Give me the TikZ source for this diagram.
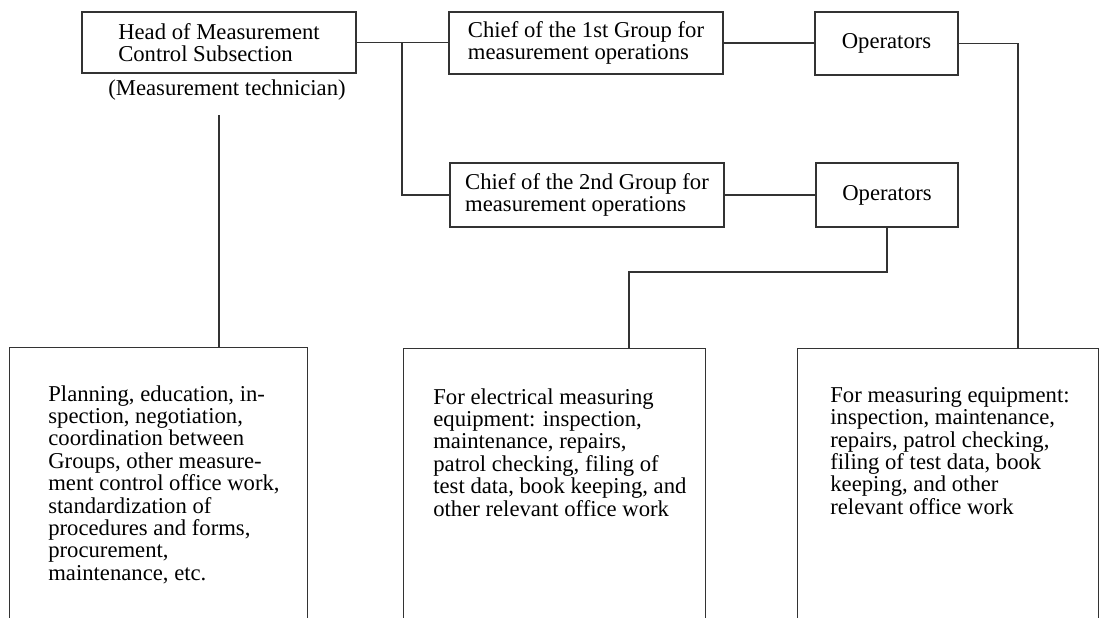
\documentclass[tikz,border=0pt]{standalone}
\usepackage{fontspec}
\setmainfont{Liberation Serif}
\usetikzlibrary{positioning}

\begin{document}
\begin{tikzpicture}[x=2cm, y=2cm,
  every node/.style={font=\fontsize{12.9}{12.75}\selectfont},
  post/.style={draw=black!80, line width=0.6pt, align=left, inner sep=2pt},
  frame/.style={draw=black!80, line width=0.6pt, anchor=north west, minimum height=7cm},
  duty/.style={anchor=north west, align=left, inner sep=0pt},
  link/.style={draw=black!80, line width=0.6pt}]

\useasboundingbox (0, 0) rectangle (11, 6.17);
\clip (0, 0) rectangle (11, 6.17);

% Posts
\node[post, minimum width=5.48cm, minimum height=1.22cm] (head) at (2.19, 5.745) {Head of Measurement\\Control Subsection};
\node (tech) at (2.27, 5.27) {(Measurement technician)};

\node[post, minimum width=5.48cm, minimum height=1.24cm] (chief1) at (5.86, 5.74) {Chief of the 1st Group for\\measurement operations};
\node[post, minimum width=2.86cm, minimum height=1.26cm] (op1) at (8.865, 5.735) {Operators};

\node[post, minimum width=5.48cm, minimum height=1.28cm] (chief2) at (5.87, 4.22) {Chief of the 2nd Group for\\measurement operations};
\node[post, minimum width=2.84cm, minimum height=1.28cm] (op2) at (8.87, 4.22) {Operators};

% Duties (open at the bottom)
\node[frame, minimum width=5.96cm] (area1) at (0.09, 2.70) {};
\node[duty, below right=0.76cm and 0.78cm of area1.north west] (task1) {Planning, education, in-\\spection, negotiation,\\coordination between\\Groups, other measure-\\ment control office work,\\standardization of\\procedures and forms,\\procurement,\\maintenance, etc.};

\node[frame, minimum width=6.04cm] (area2) at (4.03, 2.69) {};
\node[duty, below right=0.80cm and 0.60cm of area2.north west] (task2) {For electrical measuring\\equipment: inspection,\\maintenance, repairs,\\patrol checking, filing of\\test data, book keeping, and\\other relevant office work};

\node[frame, minimum width=6.02cm] (area3) at (7.97, 2.69) {};
\node[duty, below right=0.78cm and 0.66cm of area3.north west] (task3) {For measuring equipment:\\inspection, maintenance,\\repairs, patrol checking,\\filing of test data, book\\keeping, and other\\relevant office work};

% Lines
\coordinate (split) at (4.02, 5.745);
\coordinate (drop2) at (6.29, 2.69);
\coordinate (drop3) at (10.18, 2.69);

\draw[link] (head.east) -- (head.east -| chief1.west);
\draw[link] (split) |- (chief2.west);
\draw[link] (chief1.east) -- (chief1.east -| op1.west);
\draw[link] (chief2.east) -- (op2.west);
\draw[link] (op1.east) -| (drop3);
\draw[link] (op2.south) |- (6.29, 3.45) -- (drop2);
\draw[link] ([yshift=-5pt]tech.south -| head.south) -- (head.south |- area1.north);

\end{tikzpicture}
\end{document}
